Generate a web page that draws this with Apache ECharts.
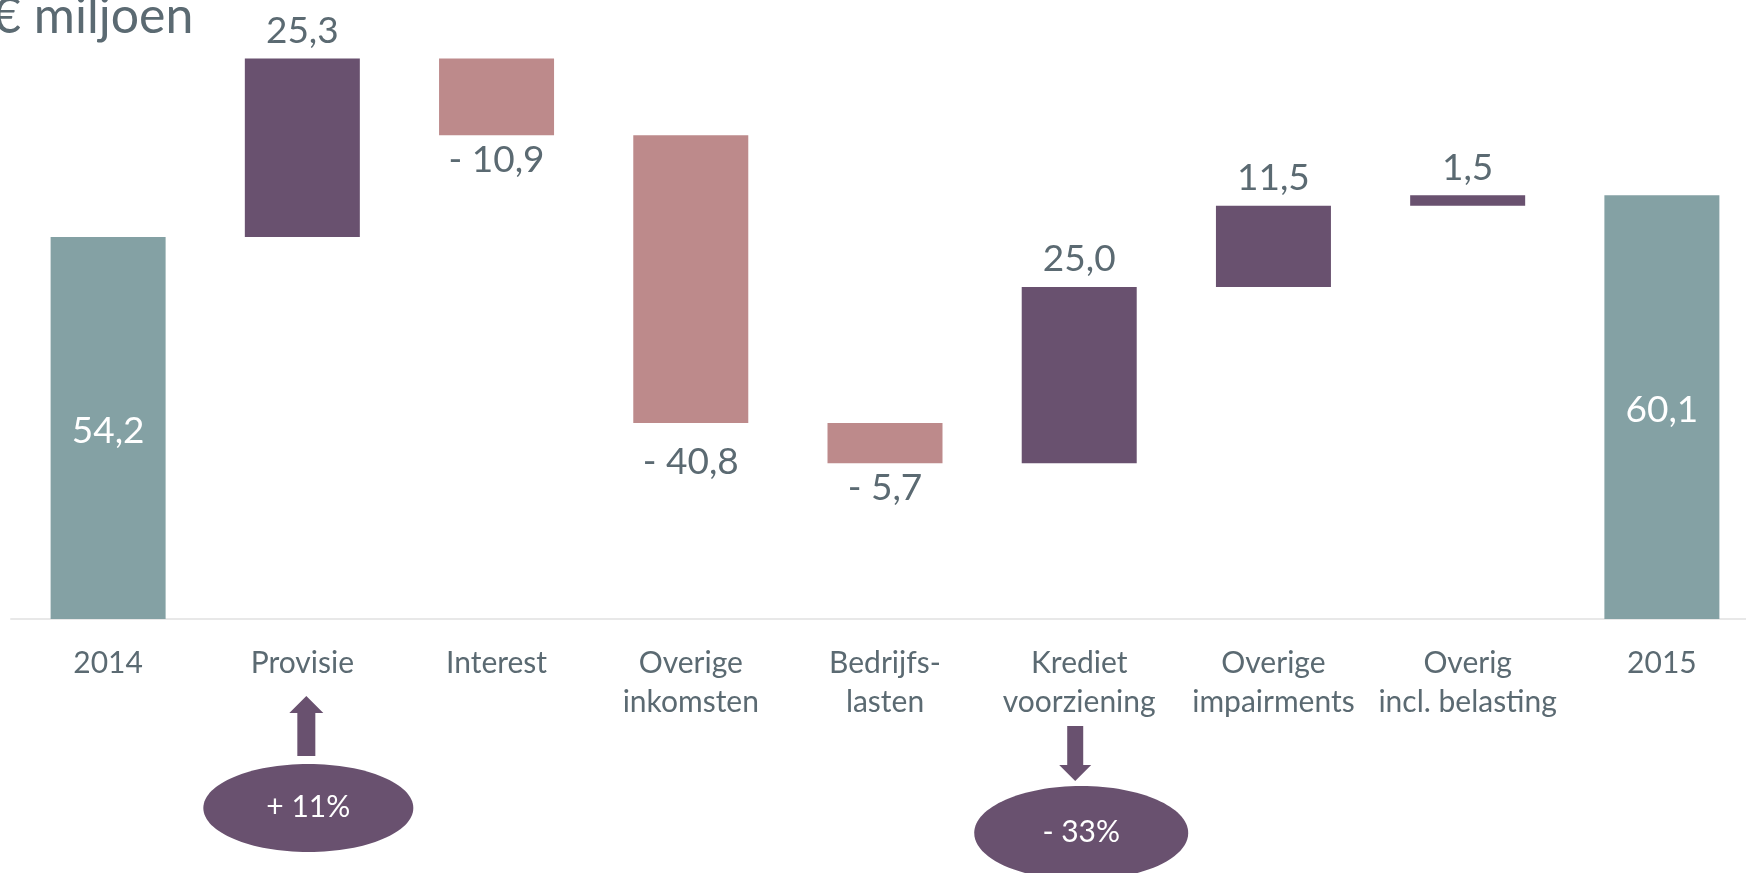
<!DOCTYPE html>
<html>
	<head>
		<meta http-equiv="Content-Type" content="text/html; charset=utf-8" />
		<title>Resultaat 2014 - 2015</title>
		<style>
			html, body {
				margin: 0;
				padding: 0;
				background: #fff;
				overflow: hidden;
			}
			#main {
				width: 1760px;
				height: 873px;
			}
		</style>
	</head>
	<body>
		<div id="main"></div>
		<script src="https://cdn.jsdelivr.net/npm/echarts@6.0.0/dist/echarts.min.js"></script>
		<script>
			// data
			var categories = ['2014', 'Provisie', 'Interest', 'Overige\ninkomsten', 'Bedrijfs-\nlasten', 'Krediet\nvoorziening', 'Overige\nimpairments', 'Overig\nincl. belasting', '2015'];
			var changes = [54.2, 25.3, -10.9, -40.8, -5.7, 25.0, 11.5, 1.5, 60.1];
			var isTotal = [true, false, false, false, false, false, false, false, true];
			var notes = [{ cat: 'Provisie', text: '+ 11%', dir: 'up' }, { cat: 'Krediet\nvoorziening', text: '- 33%', dir: 'down' }];

			var colTotal = '#84a1a4';
			var colUp = '#69516f';
			var colDown = '#bd8a8b';
			var textCol = '#5b6a72';
			var font = 'Lato, "Open Sans", sans-serif';

			function fmt(v) {
				var s = Math.abs(v).toFixed(1).replace('.', ',');
				return v < 0 ? '- ' + s : s;
			}

			// waterfall: transparent base + visible part
			var baseData = [];
			var barData = [];
			var run = 0;
			for (var i = 0; i < changes.length; i++) {
				var v = changes[i];
				var base, h, color, label;
				if (isTotal[i]) {
					base = 0;
					h = v;
					run = v;
					color = colTotal;
					label = { position: 'inside', color: '#fff', offset: [0, 3] };
				} else if (v >= 0) {
					base = run;
					h = v;
					run += v;
					color = colUp;
					label = { position: 'top', distance: 9 };
				} else {
					run += v;
					base = run;
					h = -v;
					color = colDown;
					label = { position: 'bottom', distance: i == 3 ? 21 : 6 };
				}
				baseData.push(+base.toFixed(2));
				barData.push({ value: h, itemStyle: { color: color }, label: label });
			}

			var myChart = echarts.init(document.getElementById('main'));
			var option = {
				animation: false,
				grid: {
					left: 11,
					top: 55,
					right: 1,
					bottom: 254
				},
				xAxis: {
					type: 'category',
					data: categories,
					axisLine: {
						lineStyle: { color: '#e8e8e8', width: 2 }
					},
					axisTick: { show: false },
					axisLabel: {
						interval: 0,
						margin: 25,
						color: textCol,
						fontFamily: font,
						fontSize: 30,
						lineHeight: 39
					}
				},
				yAxis: {
					type: 'value',
					min: 0,
					max: 80,
					show: false,
					splitLine: { show: false }
				},
				series: [{
						type: 'bar',
						stack: 'w',
						barWidth: 115,
						silent: true,
						itemStyle: { color: 'transparent' },
						data: baseData
					},
					{
						type: 'bar',
						stack: 'w',
						barWidth: 115,
						label: {
							show: true,
							color: textCol,
							fontFamily: font,
							fontSize: 37,
							formatter: function(p) {
								return fmt(changes[p.dataIndex]);
							}
						},
						data: barData
					}
				],
				graphic: [{
					type: 'text',
					x: -8,
					y: 17,
					style: {
						text: '€ miljoen',
						fill: textCol,
						font: '50px ' + font,
						verticalAlign: 'middle'
					}
				}]
			};
			myChart.setOption(option);

			// arrows + ellipses under the category labels
			var extra = [];
			notes.forEach(function(n) {
				var x = myChart.convertToPixel({ xAxisIndex: 0 }, n.cat);
				var pts, cx, cy, rx, ry;
				if (n.dir == 'up') {
					var ax = x + 4;
					pts = [[ax, 696], [ax + 17, 713], [ax + 9, 713], [ax + 9, 756], [ax - 9, 756], [ax - 9, 713], [ax - 17, 713]];
					cx = x + 6; cy = 808; rx = 105; ry = 44;
				} else {
					var bx = x - 4;
					pts = [[bx - 8, 726], [bx + 8, 726], [bx + 8, 765], [bx + 16, 765], [bx, 781], [bx - 16, 765], [bx - 8, 765]];
					cx = x + 2; cy = 833; rx = 107; ry = 47;
				}
				extra.push({ type: 'polygon', shape: { points: pts }, style: { fill: colUp } });
				extra.push({ type: 'ellipse', shape: { cx: cx, cy: cy, rx: rx, ry: ry }, style: { fill: colUp } });
				extra.push({
					type: 'text',
					x: cx,
					y: cy - 1,
					style: {
						text: n.text,
						fill: '#fff',
						font: '30px ' + font,
						align: 'center',
						verticalAlign: 'middle'
					}
				});
			});
			myChart.setOption({ graphic: option.graphic.concat(extra) });
		</script>
	</body>
</html>
